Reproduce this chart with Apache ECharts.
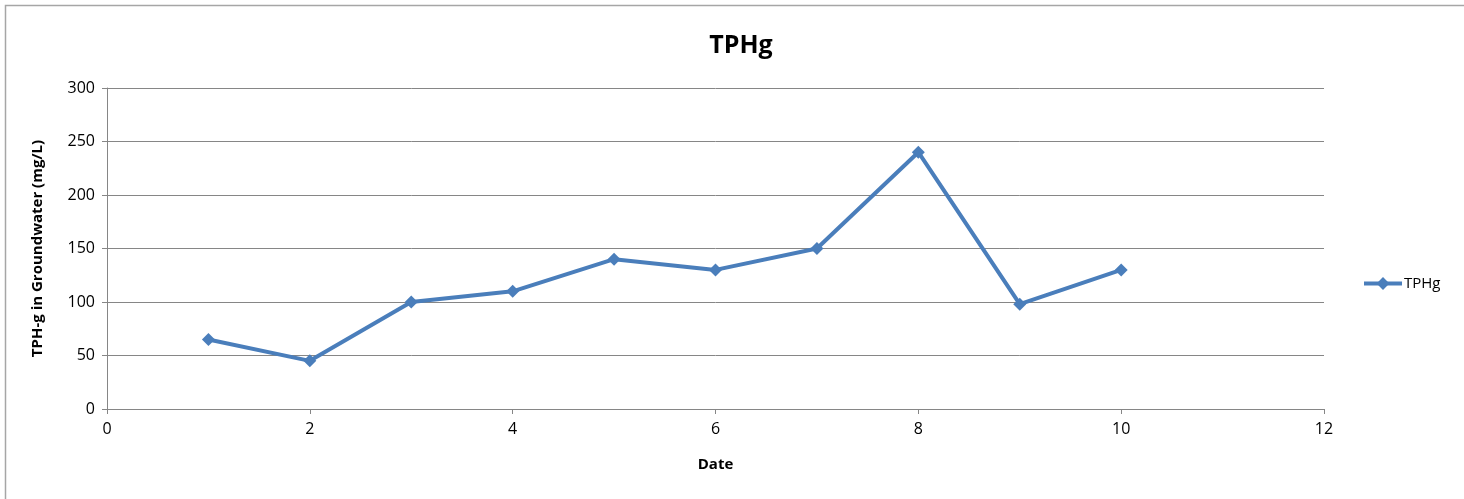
<!DOCTYPE html>
<html><head><meta charset="utf-8">
<script src="https://cdn.jsdelivr.net/npm/echarts@6/dist/echarts.min.js"></script>
<style>html,body{margin:0;padding:0;background:#fff}#c{width:1464px;height:499px}</style>
</head><body><div id="c"></div>
<script>
const xValues = [1, 2, 3, 4, 5, 6, 7, 8, 9, 10];
const tphg = [65, 45, 100, 110, 140, 130, 150, 240, 98, 130];
const seriesName = 'TPHg';
const titleText = 'TPHg';
const xTitle = 'Date';
const yTitle = 'TPH-g in Groundwater (mg/L)';

const font = '"Open Sans", "Noto Sans", sans-serif';
const chart = echarts.init(document.getElementById('c'), null, {renderer: 'canvas'});
chart.setOption({
  animation: false,
  backgroundColor: '#fff',
  title: {text: titleText, left: 736, top: 28, textAlign: 'center',
    textStyle: {fontFamily: font, fontWeight: 'bold', fontSize: 25, color: '#000'}},
  legend: {left: 1362, top: 276, padding: 0, itemWidth: 38, itemHeight: 16, itemGap: 4,
    lineStyle: {width: 4},
    textStyle: {fontFamily: font, fontSize: 15, color: '#000', padding: [0, 0, 0, -3]},
    data: [{name: seriesName}]},
  grid: {left: 107, right: 140, top: 88, bottom: 90},
  graphic: [{type: 'rect', shape: {x: 5.5, y: 5.5, width: 1470, height: 510},
    style: {fill: 'none', stroke: '#a6a6a6', lineWidth: 1.5}, silent: true}],
  xAxis: {type: 'value', min: 0, max: 12, interval: 2,
    name: xTitle, nameLocation: 'middle', nameGap: 48,
    nameTextStyle: {fontFamily: font, fontWeight: 'bold', fontSize: 15, color: '#000'},
    axisLine: {show: true, lineStyle: {color: '#868686', width: 1}},
    axisTick: {show: true, length: 5, lineStyle: {color: '#868686'}},
    axisLabel: {fontFamily: font, fontSize: 16, color: '#000', margin: 12},
    splitLine: {show: false}},
  yAxis: {type: 'value', min: 0, max: 300, interval: 50,
    name: yTitle, nameLocation: 'middle', nameGap: 62,
    nameTextStyle: {fontFamily: font, fontWeight: 'bold', fontSize: 15, color: '#000'},
    axisLine: {show: true, lineStyle: {color: '#868686', width: 1}},
    axisTick: {show: true, length: 5, lineStyle: {color: '#868686'}},
    axisLabel: {fontFamily: font, fontSize: 16, color: '#000', margin: 12},
    splitLine: {show: true, lineStyle: {color: '#868686', width: 1}}},
  series: [{name: seriesName, type: 'line',
    data: xValues.map((x, i) => [x, tphg[i]]),
    symbol: 'diamond', symbolSize: 13,
    lineStyle: {color: '#4a7ebb', width: 4},
    itemStyle: {color: '#4a7ebb'}}]
});
</script></body></html>
